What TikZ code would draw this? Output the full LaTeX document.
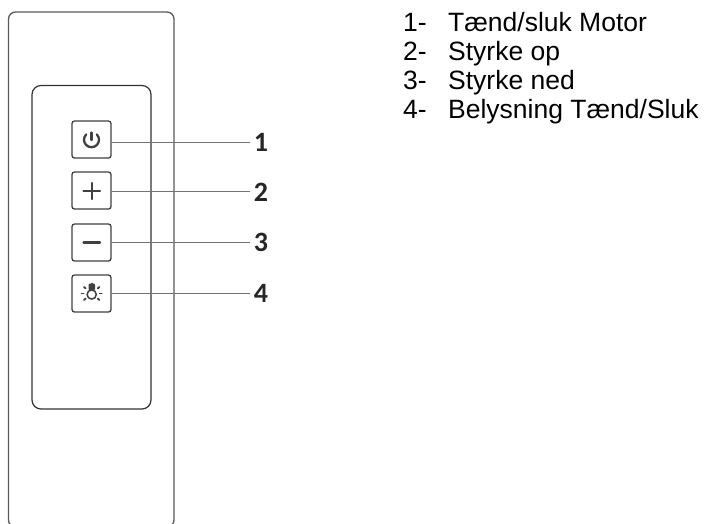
\documentclass[tikz,border=0pt]{standalone}
\usepackage{fontspec}
\usetikzlibrary{calc}
\setmainfont{Liberation Sans}
\newfontfamily\numfont{Carlito}
\tikzset{
  x=1pt,y=-1pt,
  body/.style={draw=black!65,line width=1.3pt,rounded corners=7pt},
  panel/.style={draw=black!80,line width=1.2pt,rounded corners=9pt},
  btn/.style={draw=black!75,line width=1.3pt,rounded corners=2.5pt,minimum width=39pt,minimum height=37pt,inner sep=0pt},
  lead/.style={draw=black!55,line width=1pt},
  num/.style={font=\numfont\bfseries\fontsize{28}{28}\selectfont,text=black!85,inner sep=0pt},
  legend/.style={font=\fontsize{26.5}{29}\selectfont,anchor=base west,inner sep=0pt,text=black},
  icon/.style={draw=black!75,line width=2.3pt,line cap=round},
  ray/.style={draw=black!75,line width=1.9pt,line cap=round},
}
\begin{document}
\begin{tikzpicture}
\useasboundingbox (0,0) rectangle (704,523);
\clip (0,0) rectangle (704,523);
\draw[body] (8.5,12) rectangle (174,527);
\draw[panel] (32,85.5) rectangle (151,409);
\node[btn] (b1) at (91.5,139.5) {};
\node[btn] (b2) at (91.5,190.5) {};
\node[btn] (b3) at (91.5,242.5) {};
\node[btn] (b4) at (91.5,293.5) {};
\node[num] (n1) at (261,142) {1};
\node[num] (n2) at (261,192) {2};
\node[num] (n3) at (261,242.5) {3};
\node[num] (n4) at (261,293.5) {4};
\coordinate (e1) at (250,142);
\coordinate (e2) at (250,191);
\coordinate (e3) at (250,242);
\coordinate (e4) at (250,293);
\draw[lead] (b1.east |- e1) -- (e1);
\draw[lead] (b2.east |- e2) -- (e2);
\draw[lead] (b3.east |- e3) -- (e3);
\draw[lead] (b4.east |- e4) -- (e4);
\draw[icon] (86.2,134.4) arc[start angle=225,end angle=-45,radius=7.5];
\draw[icon] (91.5,132.5) -- (91.5,140);
\draw[icon] (83.5,191) -- (100,191);
\draw[icon] (91.7,183) -- (91.7,199);
\draw[icon] (83.5,242.4) -- (100,242.4);
\draw[draw=black!75,line width=1.5pt] (91.7,294.5) circle[radius=4.6];
\fill[black!75,rounded corners=1pt] (88.5,283.5) rectangle (95,290);
\foreach \a in {0,40,140,180,220,270,320}{
  \draw[ray] ($(91.7,293.5)+(\a:8)$) -- ($(91.7,293.5)+(\a:10)$);
}
\node[legend] (l1) at (403,31) {1-};
\node[legend] (t1) at (448,31) {Tænd/sluk Motor};
\node[legend] (l2) at (403,60) {2-};
\node[legend] (t2) at (448,60) {Styrke op};
\node[legend] (l3) at (403,89) {3-};
\node[legend] (t3) at (448,89) {Styrke ned};
\node[legend] (l4) at (403,118.5) {4-};
\node[legend] (t4) at (448,118.5) {Belysning Tænd/Sluk};
\end{tikzpicture}
\end{document}
